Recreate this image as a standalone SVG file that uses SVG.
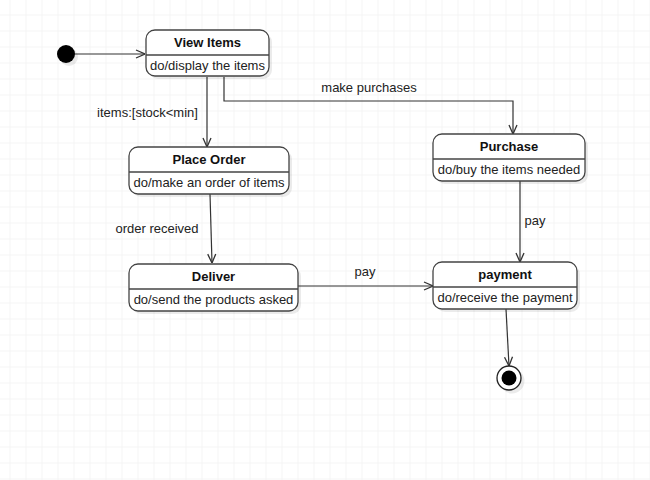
<svg xmlns="http://www.w3.org/2000/svg" width="650" height="480" viewBox="0 0 650 480">
  <defs>
    <pattern id="grid" x="9.5" y="14.5" width="16" height="16" patternUnits="userSpaceOnUse">
      <path d="M0 0 H16 M0 0 V16" fill="none" stroke="#ececec" stroke-width="1"/>
    </pattern>
    <marker id="open" viewBox="0 0 10 10" refX="10" refY="5" markerWidth="10" markerHeight="10" markerUnits="userSpaceOnUse" orient="auto">
      <path d="M1 1 L10 5 L1 9" fill="none" stroke="#333" stroke-width="1.3"/>
    </marker>
  </defs>
  <style>
    .box { fill: #fff; stroke: #444; stroke-width: 1.3; }
    .shadow { fill: #000; opacity: 0.08; }
    .div { stroke: #444; stroke-width: 1.3; }
    .title { font-family: "Liberation Sans", Arial, sans-serif; font-size: 13px; font-weight: bold; fill: #111; text-anchor: middle; }
    .body { font-family: "Liberation Sans", Arial, sans-serif; font-size: 13px; fill: #222; text-anchor: middle; }
    .lbl { font-family: "Liberation Sans", Arial, sans-serif; font-size: 13px; fill: #222; text-anchor: middle; }
    .edge { fill: none; stroke: #333; stroke-width: 1.2; marker-end: url(#open); }
  </style>
  <rect width="650" height="480" fill="#fff"/>
  <rect width="650" height="480" fill="url(#grid)"/>

  <g id="connectors">
    <path class="edge" d="M75 54 H145"/>
    <path class="edge" d="M207 77 V147"/>
    <path class="edge" d="M224 77 V101 H513 V134"/>
    <path class="edge" d="M210 194 L212 263"/>
    <path class="edge" d="M520 181 V262"/>
    <path class="edge" d="M298 286 H433"/>
    <path class="edge" d="M506 309 L509 366"/>
    <text class="lbl" x="147.5" y="116.5">items:[stock&lt;min]</text>
    <text class="lbl" x="369" y="91.5">make purchases</text>
    <text class="lbl" x="157" y="232.5">order received</text>
    <text class="lbl" x="365" y="275.5">pay</text>
    <text class="lbl" x="535" y="224.5">pay</text>
  </g>

  <g id="initial">
    <circle cx="69" cy="57" r="9" class="shadow"/>
    <circle cx="66" cy="54" r="9" fill="#000"/>
  </g>

  <g id="view-items">
    <rect class="shadow" x="149" y="33" width="123" height="46" rx="9"/>
    <rect class="box" x="146" y="30" width="123" height="46" rx="9"/>
    <line class="div" x1="146" y1="55" x2="269" y2="55"/>
    <text class="title" x="207.5" y="47">View Items</text>
    <text class="body" x="207.5" y="70">do/display the items</text>
  </g>

  <g id="place-order">
    <rect class="shadow" x="132" y="150" width="160" height="47" rx="9"/>
    <rect class="box" x="129" y="147" width="160" height="47" rx="9"/>
    <line class="div" x1="129" y1="172" x2="289" y2="172"/>
    <text class="title" x="209" y="164">Place Order</text>
    <text class="body" x="209" y="187">do/make an order of items</text>
  </g>

  <g id="purchase">
    <rect class="shadow" x="436" y="137" width="152" height="47" rx="9"/>
    <rect class="box" x="433" y="134" width="152" height="47" rx="9"/>
    <line class="div" x1="433" y1="159" x2="585" y2="159"/>
    <text class="title" x="509" y="151">Purchase</text>
    <text class="body" x="509" y="174">do/buy the items needed</text>
  </g>

  <g id="deliver">
    <rect class="shadow" x="132" y="267" width="169" height="47" rx="9"/>
    <rect class="box" x="129" y="264" width="169" height="47" rx="9"/>
    <line class="div" x1="129" y1="289" x2="298" y2="289"/>
    <text class="title" x="213.5" y="281">Deliver</text>
    <text class="body" x="213.5" y="304">do/send the products asked</text>
  </g>

  <g id="payment">
    <rect class="shadow" x="436" y="265" width="144" height="47" rx="9"/>
    <rect class="box" x="433" y="262" width="144" height="47" rx="9"/>
    <line class="div" x1="433" y1="287" x2="577" y2="287"/>
    <text class="title" x="505" y="279">payment</text>
    <text class="body" x="505" y="302">do/receive the payment</text>
  </g>

  <g id="final">
    <circle cx="512" cy="381" r="12.5" class="shadow"/>
    <circle cx="509" cy="378" r="12" fill="#fff" stroke="#222" stroke-width="1.3"/>
    <circle cx="509" cy="378" r="7.5" fill="#000"/>
  </g>
</svg>
